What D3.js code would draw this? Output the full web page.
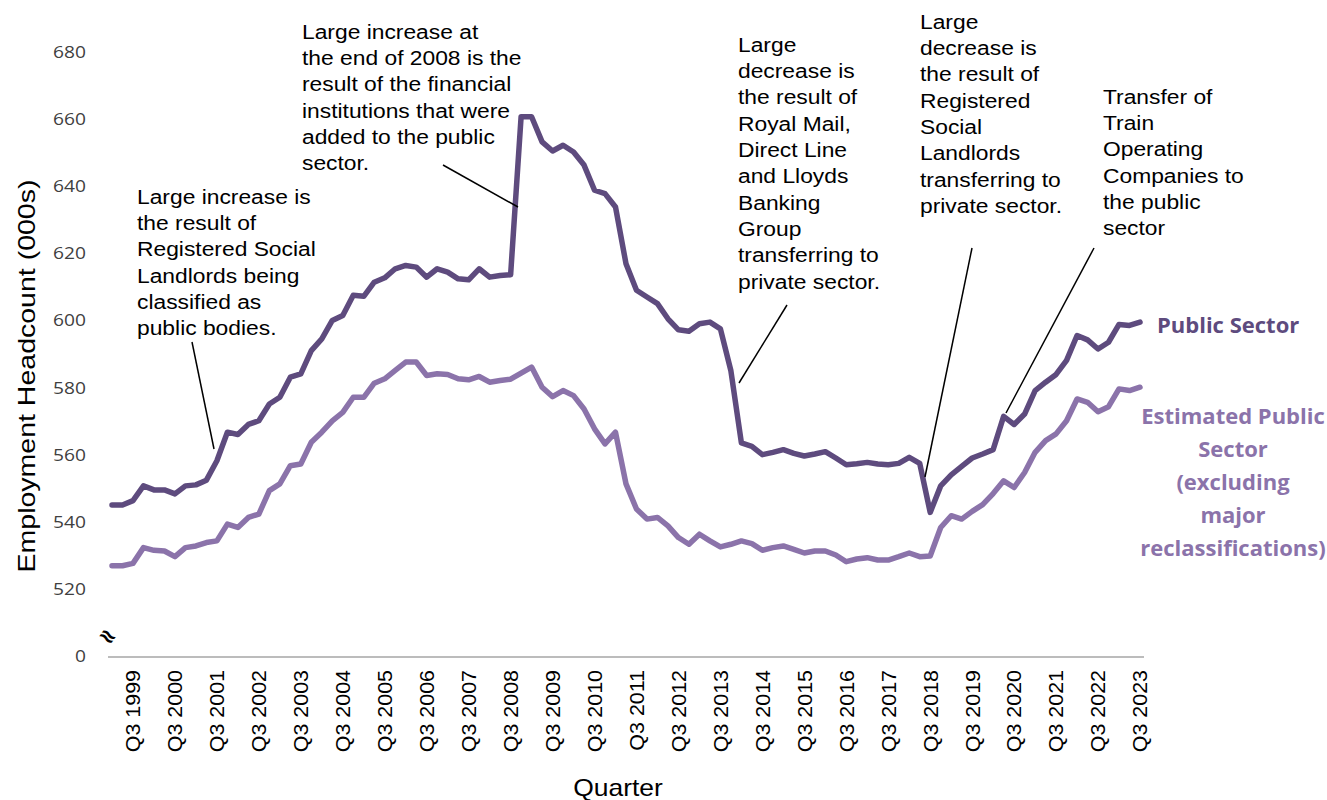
<!DOCTYPE html>
<html><head><meta charset="utf-8">
<script src="https://cdn.jsdelivr.net/npm/d3@7"></script>
<style>
html,body{margin:0;padding:0;background:#fff;}
svg{display:block;}
</style></head>
<body>
<svg id="chart" width="1327" height="800"></svg>
<script>
// ---------- DATA ----------
const quarters = [];   // Q1 1999 ... Q3 2023
for (let y = 1999; y <= 2023; y++) for (let q = 1; q <= 4; q++) { if (y === 2023 && q > 3) break; quarters.push("Q" + q + " " + y); }

const tickLabels = ["Q3 1999","Q3 2000","Q3 2001","Q3 2002","Q3 2003","Q3 2004","Q3 2005","Q3 2006","Q3 2007","Q3 2008","Q3 2009","Q3 2010","Q3 2011","Q3 2012","Q3 2013","Q3 2014","Q3 2015","Q3 2016","Q3 2017","Q3 2018","Q3 2019","Q3 2020","Q3 2021","Q3 2022","Q3 2023"];

const publicSector = [545.0,545.0,546.3,550.7,549.5,549.5,548.3,550.7,551.0,552.4,
558.2,566.7,566.0,569.0,570.1,575.1,577.1,583.1,584.1,591.0,
594.5,600.0,601.5,607.5,607.2,611.4,612.7,615.4,616.4,615.9,
612.9,615.4,614.4,612.4,612.1,615.4,612.9,613.4,613.6,660.7,
660.7,653.2,650.5,652.2,650.2,646.3,638.8,637.8,633.8,616.9,
609.0,607.0,605.0,600.5,597.2,596.8,599.0,599.5,597.5,585.0,
563.5,562.5,560.0,560.7,561.5,560.4,559.6,560.2,560.9,559.0,
557.0,557.3,557.7,557.2,557.0,557.4,559.2,557.4,542.8,550.7,
554.0,556.5,559.0,560.2,561.5,571.4,569.0,572.1,579.1,581.6,
583.9,588.1,595.5,594.2,591.5,593.5,598.8,598.5,599.5];

const estimatedPublicSector = [526.9,526.9,527.6,532.3,531.5,531.3,529.6,532.3,532.8,533.8,
534.3,539.3,538.3,541.3,542.3,549.3,551.3,556.7,557.2,563.7,
566.7,570.1,572.6,577.1,577.1,581.3,582.6,585.1,587.6,587.6,
583.6,584.1,583.9,582.6,582.3,583.3,581.6,582.1,582.5,584.3,
586.1,580.1,577.3,579.1,577.6,573.6,567.7,563.2,566.7,551.3,
543.8,540.8,541.3,538.8,535.3,533.3,536.3,534.3,532.5,533.3,
534.3,533.5,531.5,532.3,532.8,531.8,530.7,531.3,531.3,530.1,
528.1,528.9,529.3,528.6,528.6,529.6,530.7,529.6,529.8,538.3,
541.8,540.8,543.1,545.1,548.4,552.2,550.2,554.7,560.7,564.2,
566.2,570.1,576.6,575.6,572.8,574.3,579.6,579.1,580.1];

const yTickValues = [500,520,540,560,580,600,620,640,660,680];
const yTickLabels = ["0","520","540","560","580","600","620","640","660","680"];

const annotations = [
  {lines:["Large increase is","the result of","Registered Social","Landlords being","classified as","public bodies."], x:137, y:197, from:[192,342], to:[214,449]},
  {lines:["Large increase at","the end of 2008 is the","result of the financial","institutions that were","added to the public","sector."], x:302, y:32, from:[443,165], to:[518,207]},
  {lines:["Large","decrease is","the result of","Royal Mail,","Direct Line","and Lloyds","Banking","Group","transferring to","private sector."], x:738, y:45, from:[787,305], to:[739,383]},
  {lines:["Large","decrease is","the result of","Registered","Social","Landlords","transferring to","private sector."], x:920, y:22, from:[972,248], to:[925,477]},
  {lines:["Transfer of","Train","Operating","Companies to","the public","sector"], x:1103, y:97, from:[1094,248], to:[1006,413]}
];

const seriesLabels = [
  {lines:["Public Sector"], x:1157, y:325, anchor:"start", color:"#5e4b7e"},
  {lines:["Estimated Public","Sector","(excluding","major","reclassifications)"], x:1233, y:416, anchor:"middle", color:"#8b73aa"}
];

// ---------- CHART ----------
const svg = d3.select("#chart");
const x = d3.scalePoint().domain(quarters).range([112, 1140]);
const y = d3.scaleLinear().domain([500, 680]).range([656, 52]);

const darkColor = "#5e4b7e", lightColor = "#8b73aa";
const sansA = "'Liberation Sans', Arial, sans-serif";

// x axis line
svg.append("line").attr("x1",108).attr("x2",1144).attr("y1",657).attr("y2",657)
  .attr("stroke","#a6a6a6").attr("stroke-width",1.5);

// y tick labels
const yAxis = d3.axisLeft(y).tickValues(yTickValues).tickSize(0).tickPadding(0)
  .tickFormat((d,i)=>yTickLabels[i]);
const gy = svg.append("g").attr("transform","translate(86,0)").call(yAxis);
gy.select(".domain").remove();
gy.selectAll("text").attr("font-family","'Open Sans', sans-serif").attr("font-size",17).attr("fill","#404040")
  .attr("x",0).attr("transform","scale(1.13,1)");

// x tick labels
const xAxis = d3.axisBottom(x).tickValues(tickLabels).tickSize(0).tickPadding(0);
const gx = svg.append("g").attr("transform","translate(0,670)").call(xAxis);
gx.select(".domain").remove();
gx.selectAll("text")
  .attr("font-family",sansA).attr("font-size",19.5).attr("fill","#000")
  .attr("text-anchor","end").attr("dy","0.35em").attr("dx",0).attr("y",0)
  .attr("transform","rotate(-90) scale(1.1,1)");

// axis titles
svg.append("text").attr("transform","translate(618,796) scale(1.15,1)").attr("text-anchor","middle")
  .attr("font-family",sansA).attr("font-size",23).text("Quarter");
svg.append("text").attr("transform","translate(35,376) rotate(-90) scale(1.24,1)").attr("text-anchor","middle")
  .attr("font-family",sansA).attr("font-size",23).text("Employment Headcount (000s)");

// axis break symbol
svg.append("text").attr("transform","translate(108,636) rotate(35)").attr("text-anchor","middle")
  .attr("dy","0.35em").attr("font-family","'DejaVu Sans', sans-serif").attr("font-size",22).attr("font-weight","bold")
  .attr("fill","#000").text("≈");

// lines
const line = d3.line().x((d,i)=>x(quarters[i])).y(d=>y(d));
svg.append("path").datum(estimatedPublicSector).attr("d",line).attr("fill","none")
  .attr("stroke",lightColor).attr("stroke-width",5.5).attr("stroke-linejoin","round").attr("stroke-linecap","round");
svg.append("path").datum(publicSector).attr("d",line).attr("fill","none")
  .attr("stroke",darkColor).attr("stroke-width",5.5).attr("stroke-linejoin","round").attr("stroke-linecap","round");

// annotations
annotations.forEach(a=>{
  svg.append("line").attr("x1",a.from[0]).attr("y1",a.from[1]).attr("x2",a.to[0]).attr("y2",a.to[1])
    .attr("stroke","#000").attr("stroke-width",1.5);
  const t = svg.append("text").attr("transform",`translate(${a.x},${a.y}) scale(1.17,1)`)
    .attr("font-family",sansA).attr("font-size",19.5).attr("fill","#000");
  a.lines.forEach((l,i)=>{
    t.append("tspan").attr("x",0).attr("y",i*26.3).attr("dy","0.35em").text(l);
  });
});

// series labels
seriesLabels.forEach(s=>{
  const t = svg.append("text").attr("font-family","'Open Sans', sans-serif").attr("font-size",22)
    .attr("font-weight","bold").attr("fill",s.color).attr("text-anchor",s.anchor);
  s.lines.forEach((l,i)=>{
    t.append("tspan").attr("x",s.x).attr("y",s.y + i*33).attr("dy","0.35em").text(l);
  });
});
</script>
</body></html>
